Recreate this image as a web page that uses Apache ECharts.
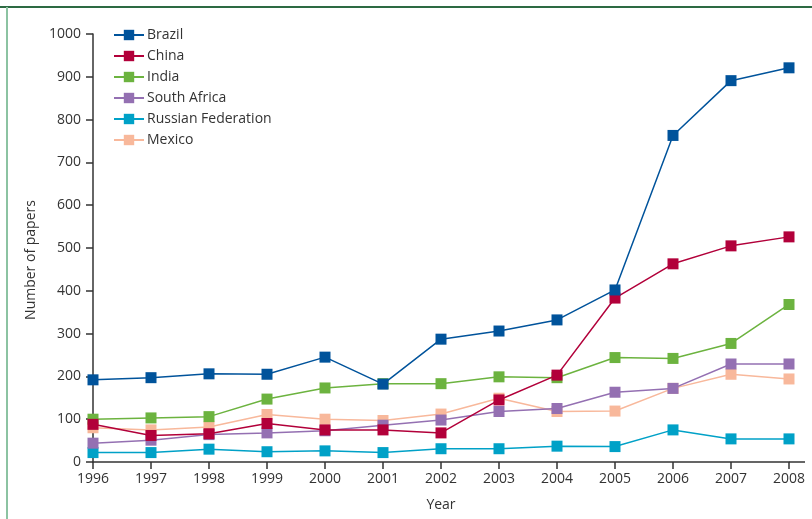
<!DOCTYPE html>
<html>
<head>
<meta charset="utf-8">
<script src="https://cdn.jsdelivr.net/npm/echarts@6/dist/echarts.min.js"></script>
<style>
html,body{margin:0;padding:0;background:#fff;}
#c{width:812px;height:519px;}
</style>
</head>
<body>
<div id="c"></div>
<script>
const years = ['1996','1997','1998','1999','2000','2001','2002','2003','2004','2005','2006','2007','2008'];
const yTicks = [0,100,200,300,400,500,600,700,800,900,1000];
const brazil  = [192,197,206,205,245,182,287,306,332,402,763,891,921];
const china   = [88,62,66,90,75,75,68,145,203,383,463,505,526];
const india   = [100,103,106,147,173,183,183,199,197,244,242,277,368];
const southAfrica = [44,51,64,68,73,86,98,118,125,163,172,229,229];
const russia  = [22,22,30,24,26,22,31,31,37,36,75,54,54];
const mexico  = [80,75,82,111,100,97,112,149,118,119,172,205,194];

const seriesDefs = [
  {name:'Brazil', data:brazil, color:'#00539b', z:8},
  {name:'China', data:china, color:'#b2003a', z:7},
  {name:'India', data:india, color:'#6cb33f', z:6},
  {name:'South Africa', data:southAfrica, color:'#9470b2', z:5},
  {name:'Russian Federation', data:russia, color:'#00a1c7', z:4},
  {name:'Mexico', data:mexico, color:'#f8b89b', z:3}
];

const font = '"Open Sans", "DejaVu Sans", sans-serif';
const chart = echarts.init(document.getElementById('c'), null, {renderer:'canvas'});
chart.setOption({
  animation:false,
  backgroundColor:'#fff',
  textStyle:{fontFamily:font},
  graphic:[
    {type:'line', shape:{x1:0,y1:7,x2:812,y2:7}, style:{stroke:'#2d6a43',lineWidth:2}, silent:true},
    {type:'line', shape:{x1:7,y1:7,x2:7,y2:519}, style:{stroke:'#8cc3a2',lineWidth:2}, silent:true},
    {type:'line', shape:{x1:789,y1:462,x2:805,y2:462}, style:{stroke:'#333',lineWidth:1.5}, silent:true}
  ],
  grid:{left:93,right:23,top:34,bottom:57,containLabel:false},
  legend:{
    orient:'vertical', left:108, top:23, itemGap:7, itemWidth:30, itemHeight:13,
    data:seriesDefs.map(s=>s.name),
    textStyle:{fontFamily:font,fontSize:14,color:'#333',padding:[0,0,0,-2]}
  },
  xAxis:{
    type:'category', data:years, boundaryGap:false,
    name:'Year', nameLocation:'middle', nameGap:36,
    nameTextStyle:{fontFamily:font,fontSize:14,color:'#333'},
    axisLine:{lineStyle:{color:'#333',width:1.5}},
    axisTick:{show:true,alignWithLabel:true,length:7,lineStyle:{color:'#333',width:1.5}},
    axisLabel:{fontFamily:font,fontSize:14,color:'#333',margin:10},
    splitLine:{show:false}
  },
  yAxis:{
    type:'value', min:0, max:1000, interval:100,
    name:'Number of papers', nameLocation:'middle', nameGap:55,
    nameTextStyle:{fontFamily:font,fontSize:14,color:'#333',padding:[0,24,0,0]},
    axisLine:{show:true,lineStyle:{color:'#333',width:1.5}},
    axisTick:{show:true,length:7,lineStyle:{color:'#333',width:1.5}},
    axisLabel:{fontFamily:font,fontSize:14,color:'#333',margin:12,
      formatter:v=>yTicks.includes(v)?String(v):''},
    splitLine:{show:false}
  },
  series:seriesDefs.map(s=>({
    name:s.name, type:'line', data:s.data, z:s.z,
    symbol:'rect', symbolSize:11, showSymbol:true,
    itemStyle:{color:s.color},
    lineStyle:{color:s.color,width:1.5},
    emphasis:{disabled:true}
  }))
});
</script>
</body>
</html>
